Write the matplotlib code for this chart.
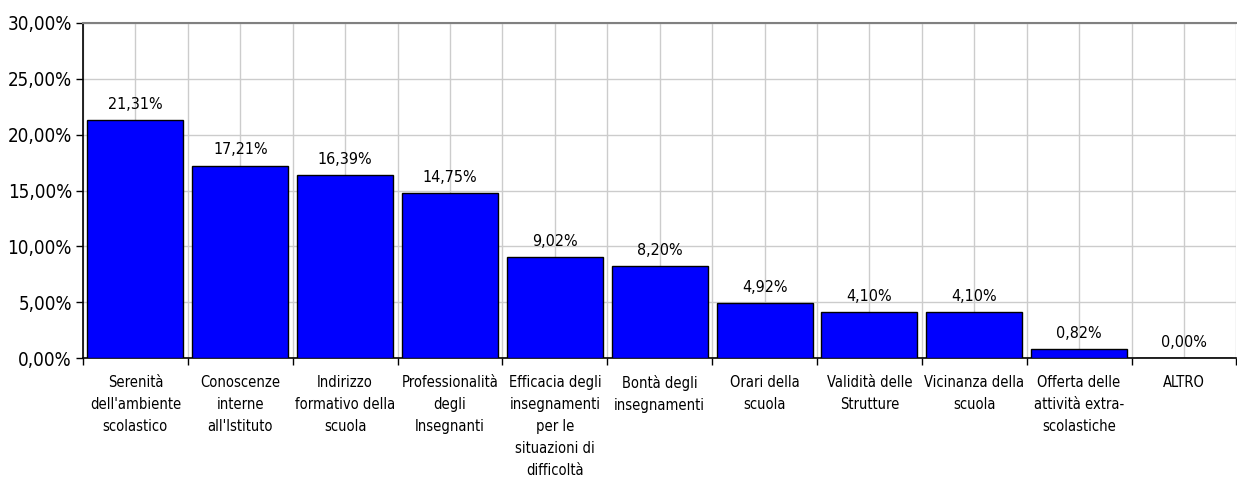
import matplotlib
matplotlib.use("Agg")
import matplotlib.pyplot as plt
import numpy as np
from matplotlib.ticker import FixedLocator, FuncFormatter

categories = [
    "Serenità\ndell'ambiente\nscolastico",
    "Conoscenze\ninterne\nall'Istituto",
    "Indirizzo\nformativo della\nscuola",
    "Professionalità\ndegli\nInsegnanti",
    "Efficacia degli\ninsegnamenti\nper le\nsituazioni di\ndifficoltà",
    "Bontà degli\ninsegnamenti",
    "Orari della\nscuola",
    "Validità delle\nStrutture",
    "Vicinanza della\nscuola",
    "Offerta delle\nattività extra-\nscolastiche",
    "ALTRO",
]
values = [21.31, 17.21, 16.39, 14.75, 9.02, 8.20, 4.92, 4.10, 4.10, 0.82, 0.00]
yticks = [0, 5, 10, 15, 20, 25, 30]

plt.rcParams['font.family'] = ['DejaVu Sans']
plt.rcParams['font.stretch'] = 'condensed'

fig = plt.figure(figsize=(12.37, 4.8), dpi=100)
ax = fig.add_axes([83/1237, 1-358/480, 1-83/1237-0.0005, (358-23)/480])

x = np.arange(len(values))
ax.bar(x, values, width=0.915, color='#0000FF', edgecolor='black', linewidth=1, zorder=3)

def fmt(v):
    return f"{v:.2f}".replace('.', ',') + '%'

for xi, v in zip(x, values):
    ax.annotate(fmt(v), (xi, v), xytext=(0, 6), textcoords='offset points',
                ha='center', va='bottom', fontsize=11.5, zorder=4)

ax.set_xlim(-0.5, len(values) - 0.5)
ax.set_ylim(0, 30)
ax.set_yticks(yticks)
ax.yaxis.set_major_formatter(FuncFormatter(lambda v, p: fmt(v)))
ax.tick_params(axis='y', labelsize=13.5, length=5, width=1, direction='out', pad=3)

ax.set_xticks(x)
ax.set_xticklabels(categories, fontsize=10.5, linespacing=1.6)
ax.xaxis.set_minor_locator(FixedLocator(np.arange(-0.5, len(values), 1.0)))
ax.tick_params(axis='x', which='major', length=0, pad=12)
ax.tick_params(axis='x', which='minor', length=5, width=1)

ax.grid(True, which='both', axis='x', color='#cccccc', linewidth=1, zorder=0)
ax.grid(True, which='major', axis='y', color='#cccccc', linewidth=1, zorder=0)
ax.set_axisbelow(True)

ax.spines['right'].set_visible(False)
ax.spines['top'].set_color('#808080')
ax.spines['top'].set_linewidth(1.5)
ax.spines['left'].set_linewidth(1.2)
ax.spines['bottom'].set_linewidth(1.2)

fig.savefig('out.png', dpi=100)
